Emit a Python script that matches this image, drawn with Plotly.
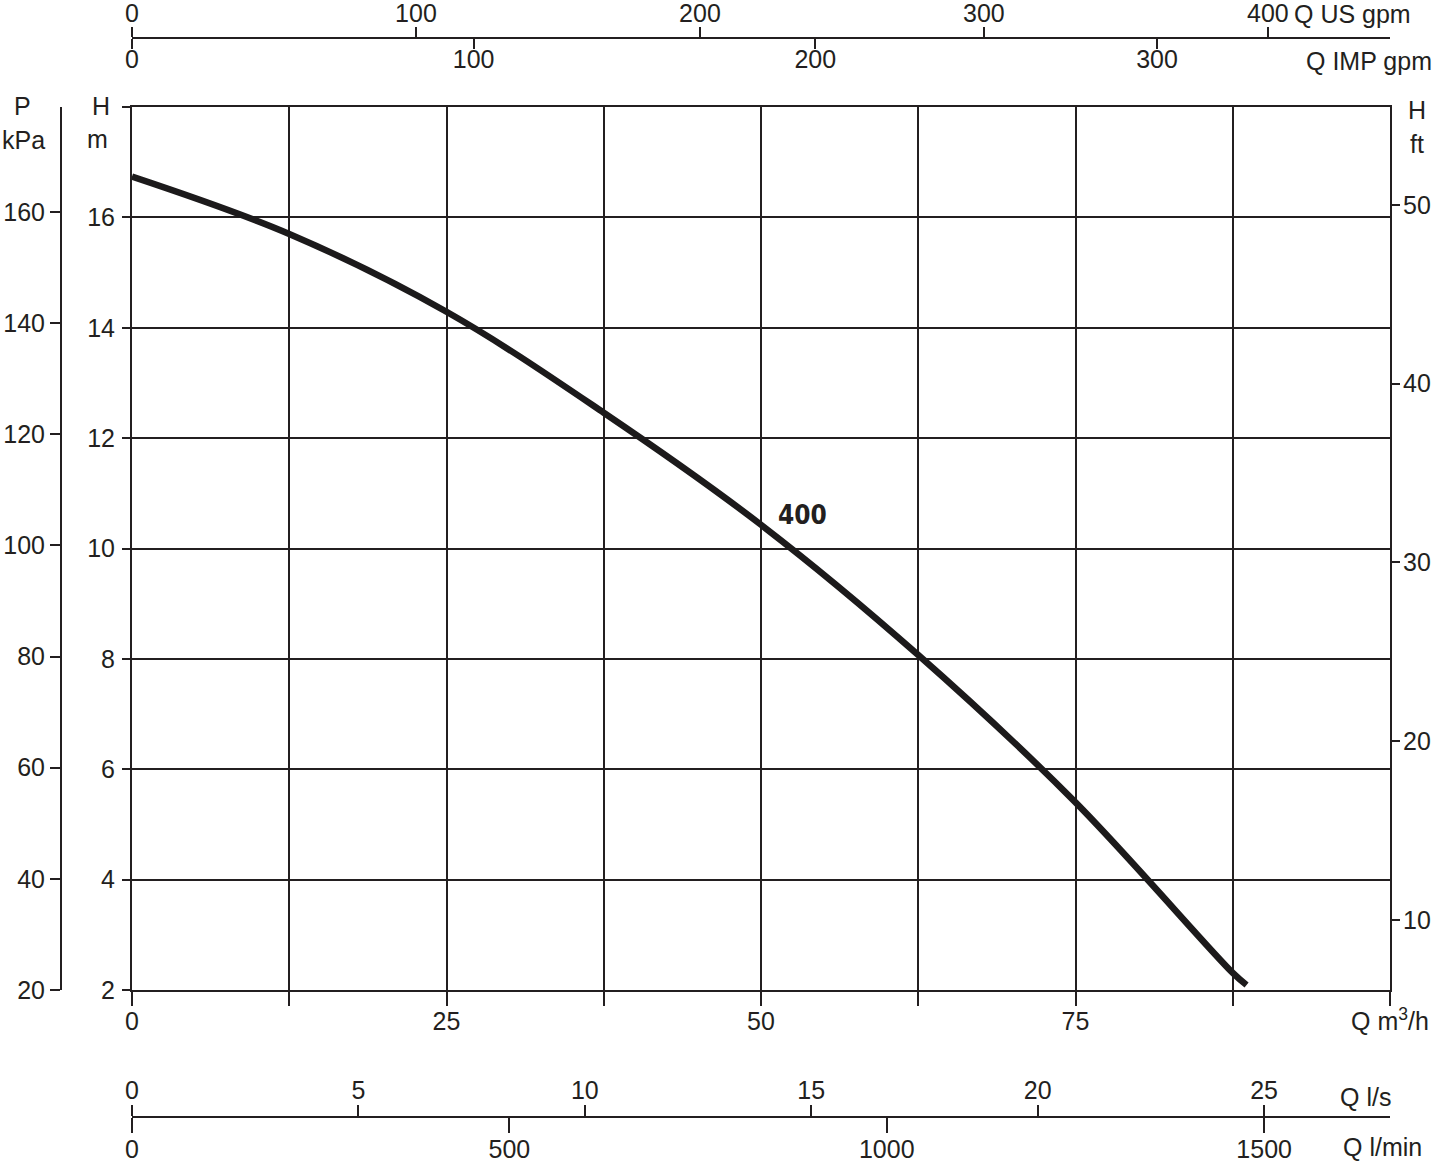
import plotly.graph_objects as go

# pump curve (Q in m3/h, H in m)
flow_m3h = [0, 12.5, 25, 37.5, 50, 62.5, 75, 87.5, 88.6]
head_m = [16.74, 15.70, 14.29, 12.46, 10.43, 8.07, 5.40, 2.31, 2.09]
curve_name = "400"
curve_label_pos = [53.3, 10.6]

# axis ticks
m3h_ticks = [0, 12.5, 25, 37.5, 50, 62.5, 75, 87.5, 100]
m3h_labels = ["0", "", "25", "", "50", "", "75", "", "Q m<sup>3</sup>/h"]
head_m_ticks = [2, 4, 6, 8, 10, 12, 14, 16, 18]
head_m_labels = ["2", "4", "6", "8", "10", "12", "14", "16", ""]
head_ft_ticks = [10, 20, 30, 40, 50]
kpa_ticks = [20, 40, 60, 80, 100, 120, 140, 160]
us_gpm_ticks = [0, 100, 200, 300, 400]
imp_gpm_ticks = [0, 100, 200, 300]
ls_ticks = [0, 5, 10, 15, 20, 25]
lmin_ticks = [0, 500, 1000, 1500]

W, HGT = 1434, 1162
ml, mr, mt, mb = 40, 20, 20, 20

def px(x):
    return (x - ml) / (W - ml - mr)

def py(y):
    return (HGT - mb - y) / (HGT - mt - mb)

ink = "#231f20"
font = dict(family="Liberation Sans, Arial, sans-serif", size=25, color=ink)

fig = go.Figure()
fig.add_trace(go.Scatter(x=flow_m3h, y=head_m, mode="lines",
                         line=dict(color="#1c1a1b", width=6.5, shape="spline", smoothing=1.0),
                         hoverinfo="skip", showlegend=False))

# empty traces so every extra axis has a subplot
for xa, ya in [("x2", "y"), ("x3", "y"), ("x4", "y"), ("x5", "y"), ("x", "y2"), ("x", "y3")]:
    fig.add_trace(go.Scatter(x=[None], y=[None], xaxis=xa, yaxis=ya, showlegend=False))

base = dict(showgrid=False, zeroline=False, showline=True, linecolor=ink, linewidth=2,
            ticks="outside", tickcolor=ink, tickwidth=2, tickfont=font, tickmode="array",
            automargin=False)

fig.update_layout(
    template="none",
    width=W, height=HGT,
    margin=dict(l=ml, r=mr, t=mt, b=mb, autoexpand=False),
    paper_bgcolor="white", plot_bgcolor="white",
    showlegend=False,
    xaxis=dict(base, domain=[px(132), px(1390)], range=[0, 100], tickvals=m3h_ticks,
               ticktext=m3h_labels, ticklen=14, ticklabelstandoff=-6,
               showgrid=True, gridcolor=ink, gridwidth=2, mirror=True),
    yaxis=dict(base, domain=[py(990), py(107)], range=[2, 18], tickvals=head_m_ticks,
               ticktext=head_m_labels, ticklen=8, ticklabelstandoff=2,
               showgrid=True, gridcolor=ink, gridwidth=2, mirror=True),
    yaxis2=dict(base, overlaying="y", side="right", anchor="x", range=[6.08, 55.48],
                tickvals=head_ft_ticks, ticklen=9, ticklabelstandoff=-2, showline=False),
    yaxis3=dict(base, overlaying="y", side="left", anchor="free", position=px(61),
                range=[20, 178.9], tickvals=kpa_ticks, ticklen=10),
    xaxis2=dict(base, overlaying="x", side="top", anchor="free", position=py(38),
                range=[0, 443], tickvals=us_gpm_ticks, ticklen=10, ticklabelstandoff=-5),
    xaxis3=dict(base, overlaying="x", side="bottom", anchor="free", position=py(38),
                range=[0, 368.2], tickvals=imp_gpm_ticks, ticklen=10, ticklabelstandoff=-11),
    xaxis4=dict(base, overlaying="x", side="top", anchor="free", position=py(1117),
                range=[0, 27.78], tickvals=ls_ticks, ticklen=11, ticklabelstandoff=-4),
    xaxis5=dict(base, overlaying="x", side="bottom", anchor="free", position=py(1117),
                range=[0, 1666.7], tickvals=lmin_ticks, ticklen=15, ticklabelstandoff=-5),
)

labels = [
    ("P", 22, 106, "center"), ("kPa", 23, 140, "center"),
    ("H", 101, 106, "center"), ("m", 97, 139, "center"),
    ("H", 1417, 110, "center"), ("ft", 1417, 144, "center"),
    ("Q US gpm", 1292, 14, "left"), ("Q IMP gpm", 1434, 61, "right"),
    ("Q l/s", 1338, 1097, "left"), ("Q l/min", 1341, 1147, "left"),
]
for text, x, y, anchor in labels:
    fig.add_annotation(text=text, x=px(x), y=py(y), xref="paper", yref="paper",
                       xanchor=anchor, yanchor="middle", showarrow=False, font=font)

fig.add_annotation(text="<b>" + curve_name + "</b>", x=curve_label_pos[0], y=curve_label_pos[1],
                   xref="x", yref="y", showarrow=False,
                   font=dict(family="Liberation Sans Narrow, DejaVu Sans Condensed, sans-serif",
                             size=26, color=ink))

# drop the default page margin so the figure sits at the window corner
fig.write_html("out.html", config={"displayModeBar": False},
               post_script="document.body.style.margin = '0px';")
